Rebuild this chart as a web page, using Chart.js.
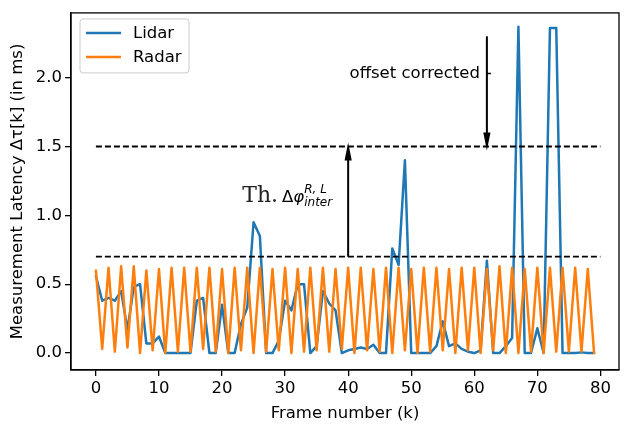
<!DOCTYPE html>
<html>
<head>
<meta charset="utf-8">
<script src="https://cdn.jsdelivr.net/npm/chart.js@4.4.0/dist/chart.umd.min.js"></script>
<style>
  html, body { margin: 0; padding: 0; background: #fff; }
  #wrap { width: 624px; height: 424px; }
</style>
</head>
<body>
<div id="wrap"><canvas id="c" width="624" height="424"></canvas></div>
<script>
// frame index k
const frames = [
  0, 1, 2, 3, 4, 5, 6, 7, 8, 9, 10, 11, 12, 13, 14, 15, 16, 17, 18, 19,
  20, 21, 22, 23, 24, 25, 26, 27, 28, 29, 30, 31, 32, 33, 34, 35, 36, 37, 38, 39,
  40, 41, 42, 43, 44, 45, 46, 47, 48, 49, 50, 51, 52, 53, 54, 55, 56, 57, 58, 59,
  60, 61, 62, 63, 64, 65, 66, 67, 68, 69, 70, 71, 72, 73, 74, 75, 76, 77, 78, 79
];

// measurement latency (ms)
const lidar = [
  0.56, 0.38, 0.40, 0.38, 0.45, 0.17, 0.48, 0.50, 0.07, 0.07,
  0.12, 0.00, 0.00, 0.00, 0.00, 0.00, 0.38, 0.40, 0.00, 0.00,
  0.35, 0.00, 0.00, 0.21, 0.33, 0.95, 0.85, 0.00, 0.00, 0.09,
  0.38, 0.31, 0.50, 0.50, 0.00, 0.05, 0.45, 0.36, 0.31, 0.00,
  0.02, 0.03, 0.04, 0.03, 0.06, 0.00, 0.00, 0.76, 0.64, 1.40,
  0.00, 0.00, 0.00, 0.00, 0.05, 0.23, 0.05, 0.07, 0.03, 0.01,
  0.00, 0.02, 0.67, 0.00, 0.00, 0.05, 0.11, 2.37, 0.00, 0.00,
  0.18, 0.00, 2.36, 2.36, 0.00, 0.00, 0.00, 0.005, 0.00, 0.00
];
const radar = [
  0.60, 0.03, 0.62, 0.01, 0.63, 0.04, 0.63, 0.00, 0.60, 0.02,
  0.61, 0.00, 0.62, 0.01, 0.62, 0.01, 0.62, 0.03, 0.62, 0.01,
  0.61, 0.00, 0.62, 0.02, 0.62, 0.00, 0.62, 0.01, 0.61, 0.02,
  0.62, 0.00, 0.61, 0.01, 0.62, 0.02, 0.62, 0.01, 0.61, 0.03,
  0.62, 0.00, 0.62, 0.02, 0.61, 0.01, 0.62, 0.00, 0.62, 0.02,
  0.61, 0.00, 0.62, 0.01, 0.62, 0.02, 0.61, 0.00, 0.62, 0.02,
  0.62, 0.00, 0.61, 0.02, 0.63, 0.00, 0.62, 0.00, 0.61, 0.01,
  0.62, 0.00, 0.62, 0.01, 0.62, 0.01, 0.62, 0.01, 0.61, 0.00
];

// threshold lines and annotation arrows
const thresholds = [0.7, 1.5];
const thresholdSpan = [0, 80];
const upArrow = { x: 40, from: 0.7, to: 1.5 };
const downArrow = { x: 62, from: 2.3, to: 1.5 };

const xTicks = [0, 10, 20, 30, 40, 50, 60, 70, 80];
const yTicks = [0.0, 0.5, 1.0, 1.5, 2.0];

const FONT = 'DejaVu Sans';
const FS = 16.5;

const series = [
  { label: 'Lidar', data: lidar, color: '#1f77b4' },
  { label: 'Radar', data: radar, color: '#ff7f0e' }
];

const datasets = series.map((s, i) => ({
  label: s.label,
  data: s.data.map((v, j) => ({ x: frames[j], y: v })),
  borderColor: s.color,
  borderWidth: 2.5,
  borderJoinStyle: 'round',
  borderCapStyle: 'round',
  pointRadius: 0,
  tension: 0,
  fill: false,
  order: 3 - i
}));
thresholds.forEach(t => datasets.push({
  label: '_th',
  data: thresholdSpan.map(x => ({ x, y: t })),
  borderColor: '#000',
  borderWidth: 1.8,
  borderDash: [6, 3],
  pointRadius: 0,
  fill: false,
  order: 0
}));

function arrow(ctx, x, y0, y1) {
  // shaft from y0 to y1, head at y1
  const dir = y1 < y0 ? 1 : -1;
  const headLen = 18, headW = 3.6;
  ctx.beginPath();
  ctx.lineWidth = 2;
  ctx.strokeStyle = '#000';
  ctx.moveTo(x, y0);
  ctx.lineTo(x, y1 + dir * headLen * 0.8);
  ctx.stroke();
  ctx.beginPath();
  ctx.fillStyle = '#000';
  ctx.moveTo(x, y1);
  ctx.lineTo(x - headW, y1 + dir * headLen);
  ctx.lineTo(x + headW, y1 + dir * headLen);
  ctx.closePath();
  ctx.fill();
}

const annotations = {
  id: 'annotations',
  afterDraw(chart) {
    const { ctx, chartArea: a, scales: { x, y } } = chart;
    ctx.save();
    // frame (all four spines)
    ctx.strokeStyle = '#000';
    ctx.lineWidth = 1.3;
    ctx.strokeRect(a.left, a.top, a.right - a.left, a.bottom - a.top);

    // arrows
    const ux = x.getPixelForValue(upArrow.x);
    arrow(ctx, ux, y.getPixelForValue(upArrow.from), y.getPixelForValue(upArrow.to) - 4);
    const dx = x.getPixelForValue(downArrow.x);
    arrow(ctx, dx, y.getPixelForValue(downArrow.from), y.getPixelForValue(downArrow.to) + 4);

    // "offset corrected" label with a short tick to the arrow
    const ty = y.getPixelForValue(2.03);
    ctx.beginPath();
    ctx.lineWidth = 1.5;
    ctx.moveTo(dx, ty);
    ctx.lineTo(dx + 4, ty);
    ctx.stroke();
    ctx.fillStyle = '#000';
    ctx.font = FS + 'px "' + FONT + '"';
    ctx.textAlign = 'right';
    ctx.textBaseline = 'middle';
    ctx.fillText('offset corrected', dx - 7, ty);

    // Th. Δφ^{R,L}_{inter}
    let px = x.getPixelForValue(23.2);
    const by = y.getPixelForValue(1.10);
    ctx.textAlign = 'left';
    ctx.textBaseline = 'alphabetic';
    ctx.fillStyle = '#222';
    ctx.font = '22px "DejaVu Serif"';
    ctx.fillText('Th.', px, by);
    px += ctx.measureText('Th.').width + 4;
    ctx.fillStyle = '#000';
    ctx.font = FS + 'px "' + FONT + '"';
    ctx.fillText('Δ', px, by);
    px += ctx.measureText('Δ').width;
    ctx.font = 'italic ' + FS + 'px "' + FONT + '"';
    ctx.fillText('φ', px, by);
    px += ctx.measureText('φ').width;
    ctx.font = 'italic 12px "' + FONT + '"';
    ctx.fillText('R, L', px, by - 9);
    ctx.fillText('inter', px, by + 4);

    // legend
    const lx = a.left + 9, ly = a.top + 6, lw = 109, lh = 54;
    ctx.beginPath();
    ctx.roundRect(lx, ly, lw, lh, 3);
    ctx.fillStyle = 'rgba(255,255,255,0.8)';
    ctx.fill();
    ctx.strokeStyle = '#cccccc';
    ctx.lineWidth = 1;
    ctx.stroke();
    series.forEach((s, i) => {
      const yy = ly + 14 + i * 24;
      ctx.beginPath();
      ctx.strokeStyle = s.color;
      ctx.lineWidth = 2.5;
      ctx.moveTo(lx + 6, yy);
      ctx.lineTo(lx + 41, yy);
      ctx.stroke();
      ctx.fillStyle = '#000';
      ctx.font = FS + 'px "' + FONT + '"';
      ctx.textAlign = 'left';
      ctx.textBaseline = 'middle';
      ctx.fillText(s.label, lx + 53, yy + 1);
    });
    ctx.restore();
  }
};

const axisCommon = {
  type: 'linear',
  grid: { drawOnChartArea: false, drawTicks: true, tickLength: 6, color: '#000', lineWidth: 1.3 },
  border: { display: true, color: '#000', width: 1.3 },
  ticks: { color: '#000', font: { family: FONT, size: FS }, padding: 3 }
};

new Chart(document.getElementById('c'), {
  type: 'line',
  data: { datasets },
  options: {
    responsive: false,
    animation: false,
    devicePixelRatio: 1,
    layout: { padding: { left: 0, right: 5, top: 11, bottom: 0 } },
    plugins: { legend: { display: false }, tooltip: { enabled: false } },
    scales: {
      x: {
        ...axisCommon,
        min: -3.95, max: 82.95,
        afterBuildTicks: s => { s.ticks = xTicks.map(v => ({ value: v })); },
        ticks: { ...axisCommon.ticks, maxRotation: 0, callback: v => String(v) },
        title: { display: true, text: 'Frame number (k)', color: '#000', font: { family: FONT, size: FS }, padding: { top: 0, bottom: 0 } },
        afterFit: s => { s.height = 54; }
      },
      y: {
        ...axisCommon,
        min: -0.123, max: 2.47,
        afterBuildTicks: s => { s.ticks = yTicks.map(v => ({ value: v })); },
        ticks: { ...axisCommon.ticks, callback: v => v.toFixed(1) },
        title: { display: true, text: 'Measurement Latency Δτ[k] (in ms)', color: '#000', font: { family: FONT, size: FS }, padding: { top: 8, bottom: 0 } },
        afterFit: s => { s.width = 71; }
      }
    }
  },
  plugins: [annotations]
});
</script>
</body>
</html>
